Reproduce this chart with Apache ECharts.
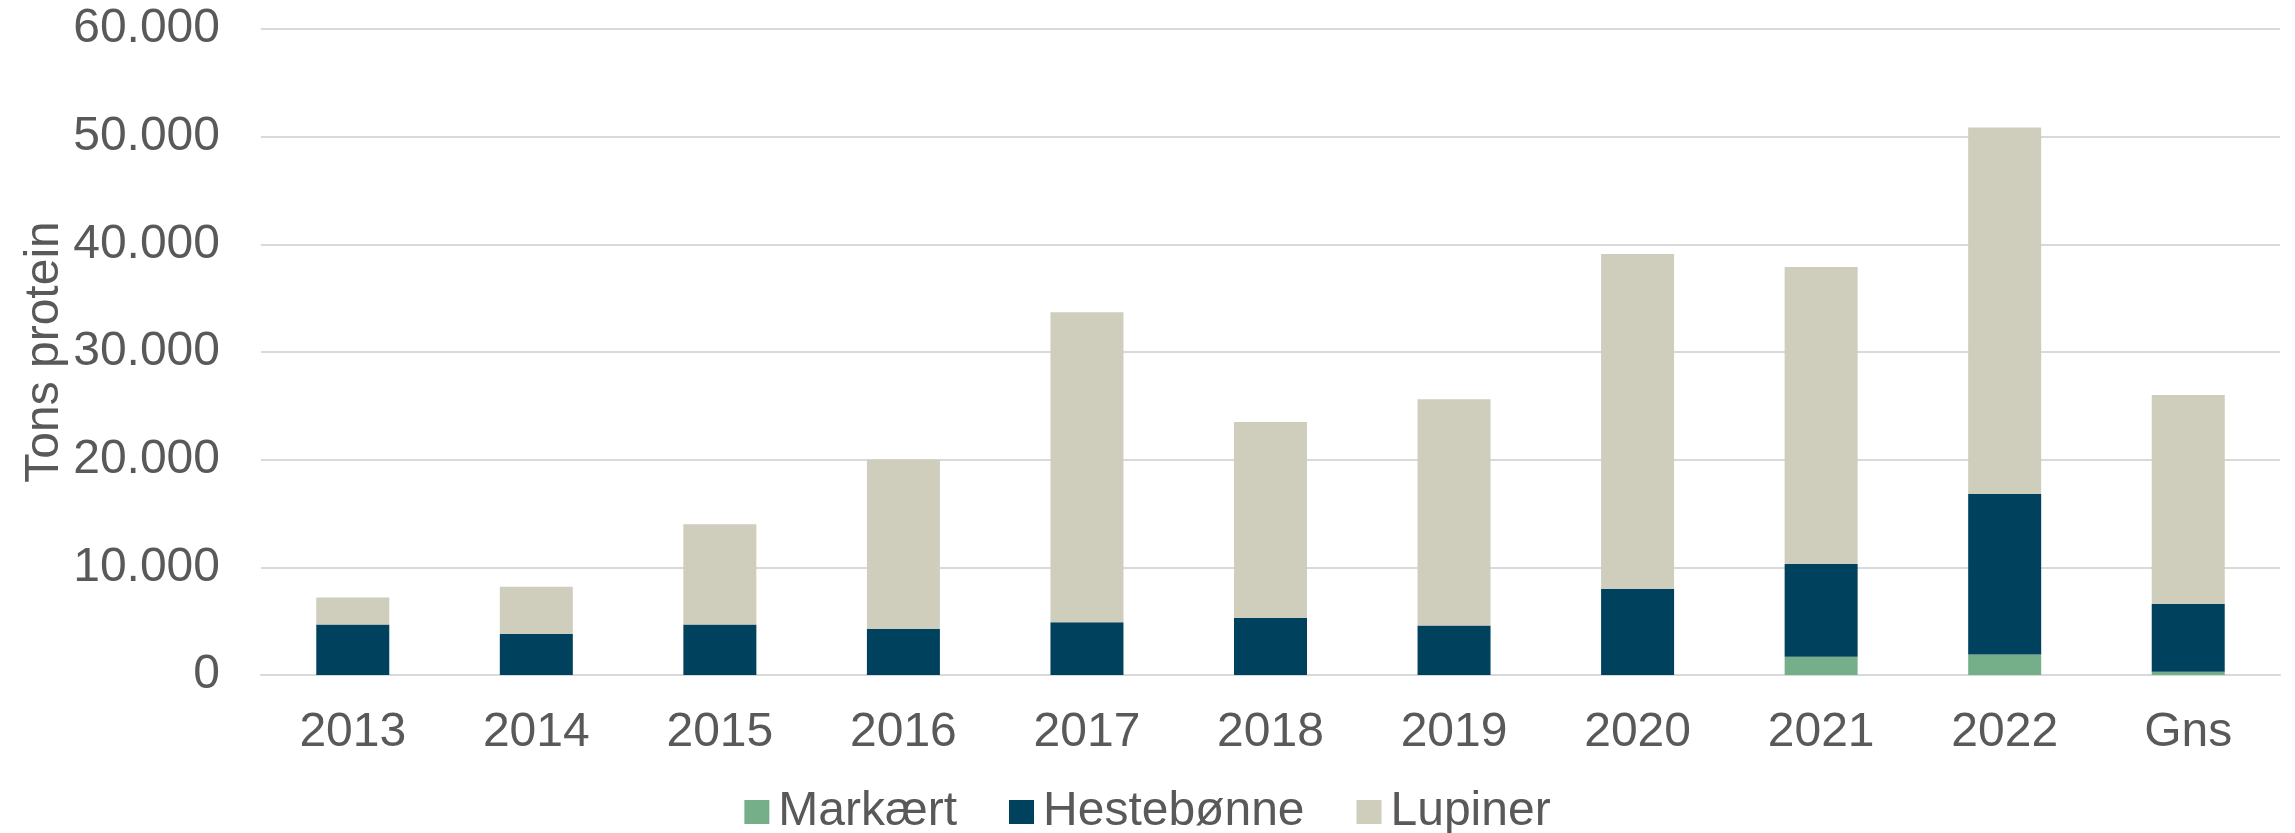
<!DOCTYPE html>
<html>
<head>
<meta charset="utf-8">
<script src="https://cdn.jsdelivr.net/npm/echarts@6/dist/echarts.min.js"></script>
<style>
    html, body { margin: 0; padding: 0; background: #fff; }
    #chart { width: 2295px; height: 833px; }
</style>
</head>
<body>
<div id="chart"></div>
<script>
var years = ['2013', '2014', '2015', '2016', '2017', '2018', '2019', '2020', '2021', '2022', 'Gns'];
var markaert = [0, 0, 0, 0, 0, 0, 0, 0, 1700, 1900, 300];
var hestebonne = [4700, 3800, 4700, 4300, 4900, 5300, 4600, 8000, 8600, 14900, 6300];
var lupiner = [2500, 4400, 9300, 15700, 28800, 18200, 21000, 31100, 27600, 34050, 19400];

(function() {
    var myChart = echarts.init(document.getElementById('chart'));
    var textColor = '#595959';
    var font = 'Liberation Sans, Arial, sans-serif';

    // tusindtalsseparator med punktum
    function fmt(v) {
        return String(v).replace(/\B(?=(\d{3})+(?!\d))/g, '.');
    }

    var option = {
        animation: false,
        grid: {
            left: 261,
            right: 15,
            top: 29,
            bottom: 158
        },
        legend: {
            top: 783,
            left: 'center',
            icon: 'rect',
            itemWidth: 25,
            itemHeight: 24,
            itemGap: 52,
            textStyle: {
                color: textColor,
                fontSize: 48,
                fontFamily: font,
                padding: [0, 0, 0, 4]
            },
            data: ['Markært', 'Hestebønne', 'Lupiner']
        },
        xAxis: {
            type: 'category',
            data: years,
            axisLine: { lineStyle: { color: '#D9D9D9', width: 2 } },
            axisTick: { show: false },
            axisLabel: {
                color: textColor,
                fontSize: 48,
                fontFamily: font,
                margin: 34
            }
        },
        yAxis: {
            type: 'value',
            min: 0,
            max: 60000,
            interval: 10000,
            name: 'Tons protein',
            nameLocation: 'middle',
            nameGap: 192,
            nameMoveOverlap: false,
            nameTextStyle: {
                color: textColor,
                fontSize: 48,
                fontFamily: font
            },
            axisLine: { show: false },
            axisTick: { show: false },
            splitLine: { lineStyle: { color: '#D9D9D9', width: 2 } },
            axisLabel: {
                color: textColor,
                fontSize: 48,
                fontFamily: font,
                margin: 41,
                formatter: fmt
            }
        },
        series: [{
            name: 'Markært',
            type: 'bar',
            stack: 'total',
            barWidth: 73,
            itemStyle: { color: '#75AF8A' },
            data: markaert
        }, {
            name: 'Hestebønne',
            type: 'bar',
            stack: 'total',
            barWidth: 73,
            itemStyle: { color: '#00425E' },
            data: hestebonne
        }, {
            name: 'Lupiner',
            type: 'bar',
            stack: 'total',
            barWidth: 73,
            itemStyle: { color: '#CFCDBB' },
            data: lupiner
        }]
    };
    myChart.setOption(option);
})();
</script>
</body>
</html>
